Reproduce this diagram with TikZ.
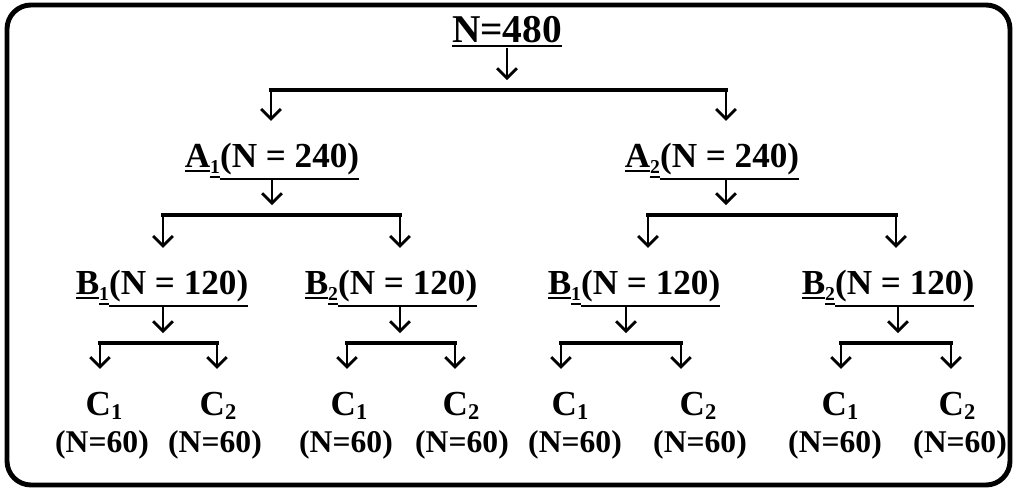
\documentclass[tikz,border=0pt]{standalone}
\usepackage{fontspec}
\setmainfont{Liberation Serif}
\usetikzlibrary{arrows.meta}
\newcommand\uln[1]{\setbox0\hbox{#1}\rlap{\rule[\dimexpr-\dp0-2.9pt\relax]{\wd0}{1.4pt}}\box0}
\newcommand\lowidx[1]{\raisebox{-4pt}{\fontsize{14}{14}\selectfont #1}}
\newcommand\leafidx[1]{\raisebox{-3pt}{\fontsize{16}{16}\selectfont #1}}
\newcommand\ulab[3]{\uln{#1}\uln{\lowidx{#2}}\uln{#3}}

\begin{document}
\begin{tikzpicture}[x=0.025cm, y=-0.025cm, every node/.style={inner sep=0pt, anchor=base},
	lvl/.style={font=\bfseries\fontsize{25}{28}\selectfont},
	leaf/.style={font=\bfseries\fontsize{25}{28}\selectfont},
	count/.style={font=\bfseries\fontsize{22.5}{25}\selectfont},
	bar/.style={line width=3.2pt, line cap=rect},
	arr/.style={line width=2pt, -{Straight Barb[length=7pt,width=14pt]}}]
	\useasboundingbox (0,0) rectangle (1016,490);
	\draw[line width=3.5pt, rounded corners=0.6cm] (7,5) rectangle (1010,485);
	\node[font=\bfseries\fontsize{28}{30}\selectfont] (R) at (507,43) {\uln{N=480}};
	\node[lvl] (A1) at (272,168) {\ulab{A}{1}{(N = 240)}};
	\node[lvl] (A2) at (712,168) {\ulab{A}{2}{(N = 240)}};
	\node[lvl] (B11) at (162,295) {\ulab{B}{1}{(N = 120)}};
	\node[lvl] (B12) at (391,295) {\ulab{B}{2}{(N = 120)}};
	\node[lvl] (B21) at (634,295) {\ulab{B}{1}{(N = 120)}};
	\node[lvl] (B22) at (888,295) {\ulab{B}{2}{(N = 120)}};
	\foreach \i/\x/\n/\s in {1/104/102/1, 2/218/215/2, 3/349/346/1, 4/461/462/2, 5/570/575/1, 6/698/700/2, 7/840/835/1, 8/957/960/2}{
		\node[leaf] (C\i) at (\x,415) {C\leafidx{\s}};
		\node[count] (N\i) at (\n,452) {(N=60)};
	}
	% split bars: parent/junction x/left x/right x/bar y/children
	\foreach \p/\j/\l/\r/\y/\a/\b in {R/507/271/726/90/A1/A2, A1/272/163/400/215/B11/B12, A2/726/648/896/215/B21/B22, B11/163/100/217/343/C1/C2, B12/400/347/455/343/C3/C4, B21/626/561/681/343/C5/C6, B22/898/841/951/343/C7/C8}{
		\coordinate (\p-j) at (\j,\y);
		\coordinate (\p-l) at (\l,\y);
		\coordinate (\p-r) at (\r,\y);
		\draw[arr, shorten >=7pt] (\p.south -| \p-j) -- (\p-j);
		\draw[bar] (\p-l) -- (\p-r);
		\draw[arr, shorten >=16pt] (\p-l) -- (\p-l |- \a.north);
		\draw[arr, shorten >=16pt] (\p-r) -- (\p-r |- \b.north);
	}
\end{tikzpicture}
\end{document}
